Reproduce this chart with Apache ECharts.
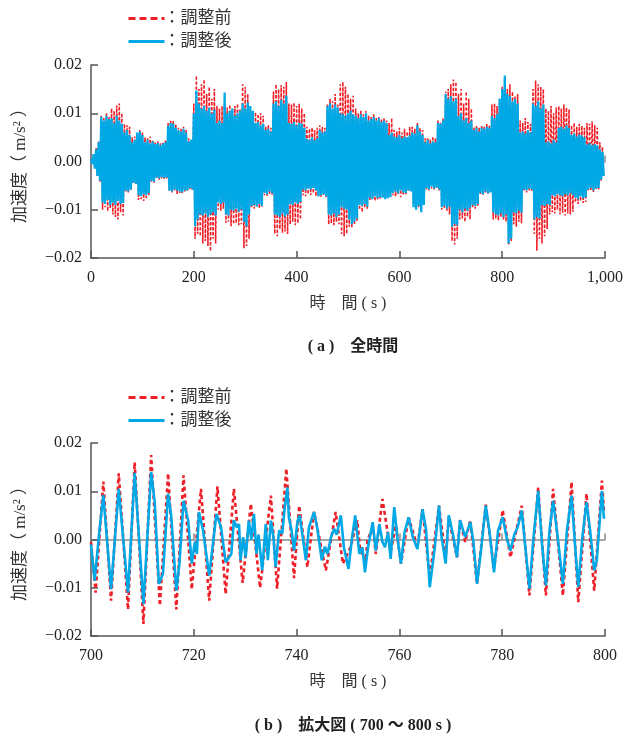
<!DOCTYPE html>
<html>
<head>
<meta charset="utf-8">
<script src="https://cdn.jsdelivr.net/npm/echarts@6/dist/echarts.min.js"></script>
<style>
  html, body { margin: 0; padding: 0; background: #fff; }
  #chart { width: 628px; height: 738px; }
</style>
</head>
<body>
<div id="chart"></div>
<script>
// values are in units of 1e-4 m/s^2
const UNIT = 1e-4;

// (a) full record: one peak and one trough read every 5 s
const stepA = 5;
const blueUpA = [
  5,15,25,40,92,85,95,88,90,80,
  95,85,78,60,65,55,40,45,60,62,
  55,40,45,38,42,36,38,34,37,40,
  74,80,78,70,65,62,68,60,42,45,
  100,147,120,110,115,105,112,100,108,80,
  85,80,143,100,105,110,95,100,105,120,
  110,122,115,105,80,82,75,78,65,68,
  62,120,125,115,128,120,137,80,78,82,
  75,80,78,70,47,45,50,44,48,65,
  60,62,115,120,110,118,112,100,98,95,
  100,105,98,95,90,98,92,100,85,88,
  92,85,90,82,85,80,55,60,52,50,
  55,48,52,50,54,60,58,75,62,55,
  40,45,38,42,40,80,78,85,140,130,
  135,125,130,95,100,85,90,80,85,65,
  70,62,70,68,72,70,95,90,98,130,
  150,178,140,135,125,130,120,60,62,58,
  65,60,120,115,125,110,118,40,42,38,
  45,40,70,72,68,75,70,55,58,52,
  56,54,50,35,38,34,36,33,25,20
];
const blueDnA = [
  5,15,30,40,85,88,80,90,85,90,
  82,88,86,60,62,58,44,46,70,72,
  68,70,65,40,42,33,35,32,34,33,
  60,62,58,60,62,64,60,60,55,58,
  134,120,110,112,108,115,110,105,112,85,
  88,85,110,112,100,102,98,104,100,125,
  134,110,92,90,94,88,92,65,68,62,
  66,110,112,115,108,114,110,88,90,85,
  88,84,58,60,56,58,55,60,72,70,
  68,72,110,112,108,115,110,95,98,100,
  120,130,125,118,90,92,88,94,75,78,
  72,76,74,75,78,76,74,65,62,66,
  60,64,65,60,62,95,100,92,105,90,
  55,58,52,56,54,58,95,92,98,94,
  135,130,132,100,105,98,102,96,90,92,
  88,65,68,62,66,64,105,110,112,108,
  115,110,170,160,105,108,102,106,58,60,
  56,58,120,115,118,90,92,88,90,70,
  72,68,70,72,68,70,66,70,75,78,
  72,76,74,58,55,60,56,55,37,30
];
const redUpA = [
  5,15,28,42,95,90,100,92,110,105,
  116,120,100,78,75,72,50,52,58,65,
  60,50,48,52,45,40,42,38,40,45,
  80,85,84,78,70,68,72,65,48,45,
  120,178,150,160,170,140,155,130,150,115,
  110,115,120,112,118,110,115,120,108,160,
  155,140,105,100,102,98,100,95,72,75,
  70,145,160,150,158,155,165,120,118,122,
  115,120,110,100,72,68,70,65,70,75,
  72,70,120,130,125,140,118,160,165,155,
  140,130,136,110,100,105,98,105,95,92,
  98,90,92,88,90,85,80,90,65,62,
  70,60,68,62,72,72,68,80,70,65,
  48,50,45,52,48,85,82,90,145,150,
  160,170,165,140,150,120,145,130,110,72,
  75,70,75,72,78,74,118,120,115,130,
  155,175,150,160,145,135,140,85,80,90,
  82,78,150,168,160,155,150,110,105,115,
  100,112,115,110,118,112,108,75,80,72,
  78,74,70,80,78,83,75,70,40,30
];
const redDnA = [
  5,15,32,42,100,95,103,98,110,115,
  120,105,112,62,65,60,46,48,80,78,
  82,76,70,42,44,36,38,35,36,37,
  62,64,60,68,65,66,62,62,58,60,
  160,150,155,170,165,175,186,160,170,100,
  102,98,127,125,134,130,128,132,130,180,
  175,160,95,98,92,96,94,70,72,68,
  70,150,155,140,148,145,150,130,125,132,
  128,120,70,72,68,70,66,72,72,75,
  70,74,130,128,132,125,130,150,155,150,
  135,138,130,125,100,105,95,98,80,78,
  82,80,78,72,70,74,72,70,72,68,
  74,70,68,62,60,90,92,95,90,88,
  58,60,56,58,55,60,100,98,102,110,
  165,172,160,120,118,125,115,120,95,98,
  92,68,70,66,68,65,120,118,122,115,
  120,125,172,165,130,135,125,128,62,64,
  60,62,150,185,160,170,155,140,110,105,
  108,100,110,106,112,108,110,104,85,88,
  82,86,84,62,60,64,58,60,40,32
];

// (b) 700-800 s: turning points [time s, value]
const blueB = [
  [700.0,-10],[700.7,-85],[701.7,25],[702.4,92],[703.9,-103],[705.4,105],[707.2,-110],
  [708.5,138],[710.2,-134],[711.7,140],[712.4,77],[713.2,-92],[714.0,-71],[715.0,95],
  [715.6,50],[716.6,-106],[717.2,-50],[718.0,80],[718.9,40],[719.6,-50],[720.2,-5],
  [720.6,-30],[721.0,57],[721.8,19],[723.0,-75],[724.4,53],[725.3,25],[726.2,-47],
  [727.3,-30],[727.8,40],[728.4,25],[728.8,32],[729.1,-43],[729.6,5],[730.1,-37],
  [730.7,39],[731.2,0],[731.7,53],[732.2,-30],[732.6,10],[733.3,-64],[734.0,32],
  [734.4,-43],[735.0,39],[735.5,5],[735.9,-57],[736.6,19],[737.2,12],[737.7,67],
  [738.2,108],[738.5,46],[739.0,20],[739.5,-23],[740.2,39],[740.6,50],[741.2,5],
  [741.8,-43],[742.4,25],[743.4,57],[744.0,25],[744.9,-43],[745.5,-15],[746.0,-30],
  [746.7,5],[747.3,22],[747.8,10],[748.6,50],[749.2,-16],[750.1,-61],[750.8,5],
  [751.4,50],[752.2,-30],[752.8,-16],[753.3,-68],[753.9,-16],[754.8,36],[755.4,-23],
  [756.1,32],[756.7,-5],[757.2,-16],[757.8,15],[758.3,-40],[759.0,67],[759.6,5],
  [760.3,-50],[761.0,15],[761.8,46],[762.6,5],[763.5,-20],[764.5,63],[765.2,19],
  [765.9,-99],[766.9,-15],[767.7,70],[768.2,5],[769.0,-50],[769.6,50],[770.4,12],
  [771.2,-37],[771.8,40],[772.8,5],[773.8,36],[774.4,-5],[775.1,-92],[775.9,-20],
  [776.8,70],[777.5,19],[778.4,-68],[779.2,19],[780.1,46],[780.9,2],[781.6,-23],
  [782.4,12],[783.0,25],[783.8,60],[784.5,-16],[785.3,-102],[786.1,5],[787.0,101],
  [787.8,-16],[788.5,-95],[789.2,19],[789.9,80],[790.8,5],[791.8,-92],[792.6,19],
  [793.5,91],[794.2,-16],[794.8,-99],[795.6,5],[796.4,77],[797.1,19],[797.9,-64],
  [798.4,-43],[799.4,101],[799.8,43]
];
const redB = [
  [700.0,-5],[700.9,-110],[702.4,120],[703.9,-127],[705.4,137],[707.2,-145],[708.5,160],
  [710.2,-175],[711.7,175],[713.4,-137],[715.0,137],[716.6,-145],[718.0,133],[719.6,-103],
  [721.4,105],[723.0,-127],[724.6,110],[726.2,-113],[727.8,105],[729.5,-90],[731.1,74],
  [732.9,-100],[735.0,91],[736.2,-102],[738.0,147],[739.5,-80],[740.5,70],[742.1,-57],
  [743.4,57],[745.7,-64],[747.6,57],[749.0,-50],[750.5,-16],[751.8,40],[752.3,-16],
  [753.4,-45],[753.8,0],[754.9,25],[755.4,-30],[756.7,84],[758.3,-26],[759.3,30],
  [760.3,-50],[761.8,46],[763.5,-16],[764.5,63],[765.9,-78],[767.7,70],[769.0,-37],
  [769.6,45],[771.2,-37],[771.8,40],[772.8,-5],[773.8,40],[775.1,-92],[776.8,72],
  [778.4,-60],[780.1,61],[781.6,-37],[783.8,70],[785.3,-116],[787.0,108],[788.5,-116],
  [789.9,105],[791.8,-116],[793.5,119],[794.8,-130],[796.4,95],[797.9,-106],[799.4,122],
  [799.8,60]
];

const xRangeA = [0, 1000, 200];
const xRangeB = [700, 800, 20];
const yRange = [-0.02, 0.02, 0.01];
const names = ['：調整前', '：調整後'];

const RED = '#ee1f27';
const BLUE = '#00a8e6';
const AXIS = '#555';
const SERIF = "'Liberation Serif', 'Noto Sans CJK JP', serif";

function zigzag(up, dn, step) {
  const pts = [];
  for (let k = 0; k < up.length; k++) {
    pts.push([k * step, up[k] * UNIT]);
    pts.push([k * step + step / 2, -dn[k] * UNIT]);
  }
  return pts;
}
function scaled(pairs) {
  return pairs.map(p => [p[0], p[1] * UNIT]);
}

function yLabel(v) {
  if (Math.abs(v) < 1e-9) return '0.00';
  return (v < 0 ? '\u2212' : '') + Math.abs(v).toFixed(2);
}

const labelFont = { fontSize: 16, fontFamily: SERIF, color: '#222' };

function mainX(grid, r) {
  return {
    gridIndex: grid, type: 'value', min: r[0], max: r[1], interval: r[2],
    position: 'bottom',
    axisLine: { onZero: false, lineStyle: { color: AXIS, width: 1.5 } },
    axisTick: { inside: true, length: 7, lineStyle: { color: AXIS, width: 1.5 } },
    axisLabel: Object.assign({ margin: 12, formatter: v => v.toLocaleString('en-US') }, labelFont),
    splitLine: { show: false },
    name: '時　間 ( s )', nameLocation: 'middle', nameGap: 38,
    nameTextStyle: { fontSize: 16, fontFamily: SERIF, color: '#333' }
  };
}
function zeroX(grid, r) {
  return {
    gridIndex: grid, type: 'value', min: r[0], max: r[1], interval: r[2],
    position: 'top',
    axisLine: { onZero: true, onZeroAxisIndex: grid, lineStyle: { color: '#8a8a8a', width: 1.5 } },
    axisTick: { inside: false, length: 6, lineStyle: { color: '#8a8a8a', width: 1.5 } },
    axisLabel: { show: false },
    splitLine: { show: false }
  };
}
function yAx(grid) {
  return {
    gridIndex: grid, type: 'value', min: yRange[0], max: yRange[1], interval: yRange[2],
    axisLine: { show: true, lineStyle: { color: AXIS, width: 1.5 } },
    axisTick: { show: true, inside: true, length: 7, lineStyle: { color: AXIS, width: 1.5 } },
    axisLabel: Object.assign({ margin: 9, formatter: yLabel }, labelFont),
    splitLine: { show: false },
    name: '加速度（ m/s² ）', nameLocation: 'middle', nameRotate: 90, nameGap: 62,
    nameTextStyle: { fontSize: 17, fontFamily: SERIF, color: '#333' }
  };
}
function legendAt(top) {
  return {
    left: 122, top: top, orient: 'vertical', itemWidth: 36, itemHeight: 14, itemGap: 6,
    selectedMode: false,
    data: [
      { name: names[0], itemStyle: { opacity: 0 }, lineStyle: { color: RED, width: 3, type: [7, 4] } },
      { name: names[1], itemStyle: { opacity: 0 }, lineStyle: { color: BLUE, width: 3, type: 'solid' } }
    ],
    textStyle: { fontSize: 17, fontFamily: SERIF, color: '#333', padding: [0, 0, 0, -6] }
  };
}

const chart = echarts.init(document.getElementById('chart'), null, { renderer: 'canvas' });
chart.setOption({
  animation: false,
  backgroundColor: '#fff',
  title: [
    { text: '( a )　全時間', left: 348, top: 334, textAlign: 'center',
      textStyle: { fontSize: 16, fontWeight: 'bold', fontFamily: SERIF, color: '#222' } },
    { text: '( b )　拡大図 ( 700 ～ 800 s )', left: 348, top: 713, textAlign: 'center',
      textStyle: { fontSize: 16, fontWeight: 'bold', fontFamily: SERIF, color: '#222' } }
  ],
  legend: [legendAt(5), legendAt(384)],
  grid: [
    { left: 91, right: 23, top: 65, height: 193 },
    { left: 91, right: 23, top: 443, height: 193 }
  ],
  xAxis: [mainX(0, xRangeA), zeroX(0, xRangeA), mainX(1, xRangeB), zeroX(1, xRangeB)],
  yAxis: [yAx(0), yAx(1)],
  series: [
    { name: names[0], type: 'line', xAxisIndex: 0, yAxisIndex: 0, symbol: 'none', silent: true,
      data: zigzag(redUpA, redDnA, stepA), z: 2, itemStyle: { color: RED },
      lineStyle: { color: RED, width: 1.6, type: [3, 2] } },
    { name: names[1], type: 'line', xAxisIndex: 0, yAxisIndex: 0, symbol: 'none', silent: true,
      data: zigzag(blueUpA, blueDnA, stepA), z: 3, itemStyle: { color: BLUE },
      lineStyle: { color: BLUE, width: 2.3 } },
    { name: names[0], type: 'line', xAxisIndex: 2, yAxisIndex: 1, symbol: 'none', silent: true,
      data: scaled(redB), z: 2, itemStyle: { color: RED },
      lineStyle: { color: RED, width: 2.6, type: [4, 3] } },
    { name: names[1], type: 'line', xAxisIndex: 2, yAxisIndex: 1, symbol: 'none', silent: true,
      data: scaled(blueB), z: 3, itemStyle: { color: BLUE },
      lineStyle: { color: BLUE, width: 2.6 } }
  ]
});
</script>
</body>
</html>
